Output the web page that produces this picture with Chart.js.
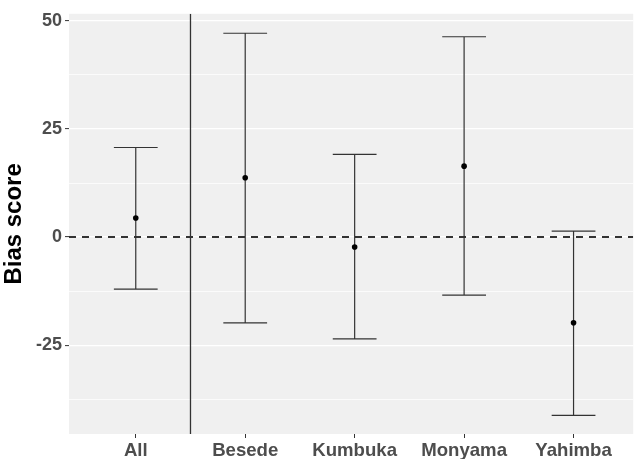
<!DOCTYPE html>
<html>
<head>
<meta charset="utf-8">
<script src="https://cdn.jsdelivr.net/npm/chart.js@4/dist/chart.umd.min.js"></script>
<style>
html,body{margin:0;padding:0;background:#fff;}
#wrap{width:636px;height:459px;position:relative;}
</style>
</head>
<body>
<div id="wrap"><canvas id="c" width="636" height="459"></canvas></div>
<script>
const categories = ['All', 'Besede', 'Kumbuka', 'Monyama', 'Yahimba'];
const estimate = [4.4, 13.7, -2.3, 16.4, -19.8];
const lower = [-12.0, -19.8, -23.5, -13.4, -41.2];
const upper = [20.7, 47.1, 19.1, 46.3, 1.4];
const yTickLabels = [-25, 0, 25, 50];
const refLineY = 0;
const separatorX = 1.5;

const FONT = "'Liberation Sans', Arial, sans-serif";

const panelBg = {
  id: 'panelBg',
  beforeDraw(chart) {
    const a = chart.chartArea, ctx = chart.ctx;
    ctx.save();
    ctx.fillStyle = '#F0F0F0';
    ctx.fillRect(a.left, a.top, a.right - a.left, a.bottom - a.top);
    ctx.restore();
  }
};

const errorBars = {
  id: 'errorBars',
  beforeDatasetsDraw(chart) {
    const ctx = chart.ctx, xs = chart.scales.x, ys = chart.scales.y, a = chart.chartArea;
    ctx.save();
    ctx.beginPath();
    ctx.rect(a.left, a.top, a.right - a.left, a.bottom - a.top);
    ctx.clip();
    ctx.strokeStyle = '#333333';
    ctx.lineWidth = 2;
    ctx.setLineDash([7, 6]);
    const y0 = ys.getPixelForValue(refLineY);
    ctx.beginPath();
    ctx.moveTo(a.left, y0); ctx.lineTo(a.right, y0); ctx.stroke();
    ctx.setLineDash([]);
    ctx.strokeStyle = '#333333';
    ctx.lineWidth = 1.3;
    const xv = xs.getPixelForValue(separatorX);
    ctx.beginPath();
    ctx.moveTo(xv, a.top); ctx.lineTo(xv, a.bottom); ctx.stroke();
    ctx.lineWidth = 1.2;
    ctx.strokeStyle = '#333333';
    categories.forEach((c, i) => {
      const xc = xs.getPixelForValue(i + 1);
      const xl = xs.getPixelForValue(i + 1 - 0.2);
      const xr = xs.getPixelForValue(i + 1 + 0.2);
      const yl = ys.getPixelForValue(lower[i]);
      const yu = ys.getPixelForValue(upper[i]);
      ctx.beginPath();
      ctx.moveTo(xc, yl); ctx.lineTo(xc, yu);
      ctx.moveTo(xl, yl); ctx.lineTo(xr, yl);
      ctx.moveTo(xl, yu); ctx.lineTo(xr, yu);
      ctx.stroke();
    });
    ctx.restore();
  }
};

new Chart(document.getElementById('c'), {
  type: 'scatter',
  data: {
    datasets: [{
      data: estimate.map((v, i) => ({x: i + 1, y: v})),
      pointRadius: 2.8,
      pointHoverRadius: 2.8,
      pointBackgroundColor: '#000',
      pointBorderColor: '#000',
      pointBorderWidth: 0,
      showLine: false
    }]
  },
  options: {
    responsive: false,
    animation: false,
    events: [],
    layout: {padding: {top: 13, right: 0, left: 0, bottom: 0}},
    plugins: {legend: {display: false}, tooltip: {enabled: false}},
    scales: {
      x: {
        type: 'linear',
        min: 0.39,
        max: 5.545,
        afterBuildTicks(s) { s.ticks = categories.map((c, i) => ({value: i + 1})); },
        afterFit(s) { s.height = 25; },
        ticks: {
          callback: (v) => categories[v - 1],
          font: {family: FONT, size: 18.6, weight: 'bold'},
          color: '#4D4D4D',
          padding: 2,
          maxRotation: 0,
          autoSkip: false
        },
        grid: {drawOnChartArea: false, tickLength: 4, tickColor: '#333333', tickWidth: 1},
        border: {display: false}
      },
      y: {
        min: -45.5,
        max: 51.6,
        afterBuildTicks(s) {
          const t = [];
          for (let v = -37.5; v <= 50; v += 12.5) t.push({value: v});
          s.ticks = t;
        },
        afterFit(s) { s.width = 69; },
        ticks: {
          callback: (v) => yTickLabels.includes(v) ? String(v) : '',
          font: {family: FONT, size: 18, weight: 'bold'},
          color: '#4D4D4D',
          padding: 3,
          autoSkip: false
        },
        grid: {
          color: '#FFFFFF',
          lineWidth: (ctx) => (ctx.tick && yTickLabels.includes(ctx.tick.value)) ? 1.2 : 0.7,
          tickLength: 4,
          tickWidth: 1,
          tickColor: (ctx) => (ctx.tick && yTickLabels.includes(ctx.tick.value)) ? '#333333' : 'rgba(0,0,0,0)'
        },
        border: {display: false},
        title: {
          display: true,
          text: 'Bias score',
          font: {family: FONT, size: 24, weight: 'bold'},
          color: '#000000',
          padding: {top: 0, bottom: 0}
        }
      }
    }
  },
  plugins: [panelBg, errorBars]
});
</script>
</body>
</html>
